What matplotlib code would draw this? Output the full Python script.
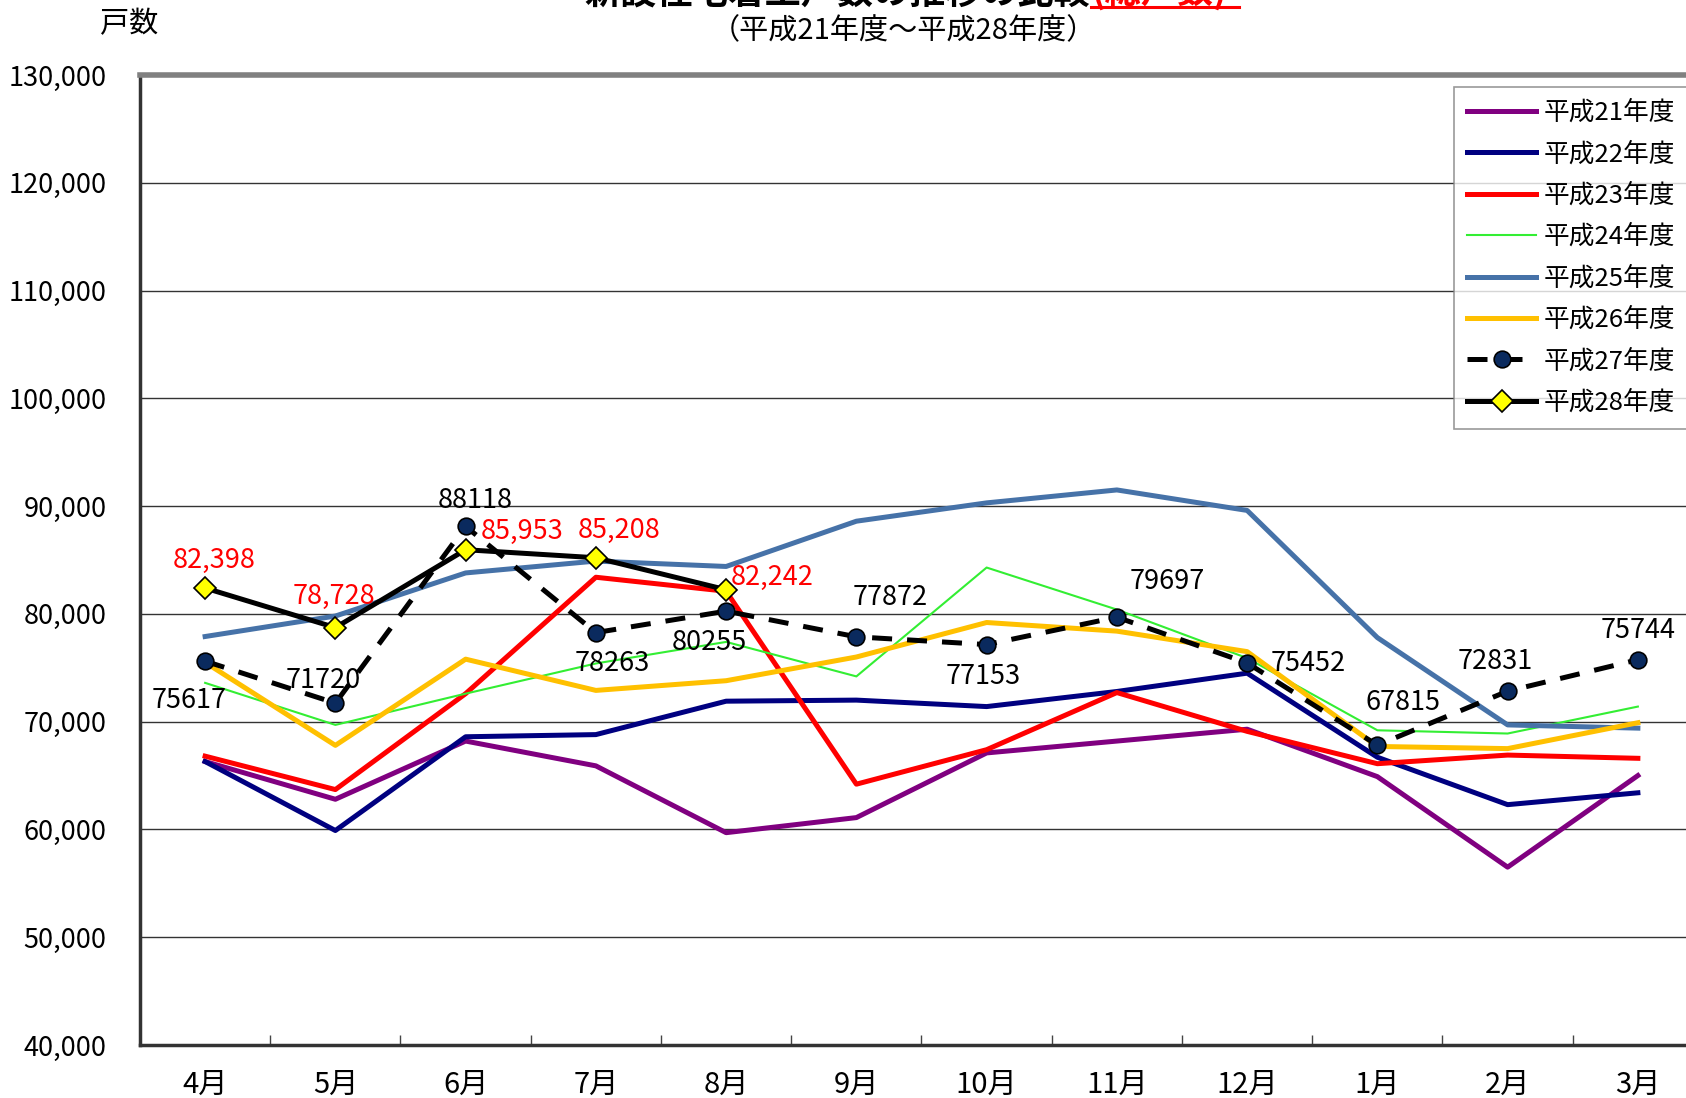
import numpy as np
import matplotlib
matplotlib.use('Agg')
import matplotlib.pyplot as plt
from matplotlib.lines import Line2D

plt.rcParams['font.family'] = ['Noto Sans CJK JP', 'DejaVu Sans']

months = ['4月', '5月', '6月', '7月', '8月', '9月', '10月', '11月', '12月', '1月', '2月', '3月']

h21 = [66300, 62800, 68200, 65900, 59700, 61100, 67100, 68200, 69300, 64900, 56500, 65000]
h22 = [66300, 59900, 68600, 68800, 71900, 72000, 71400, 72800, 74500, 66700, 62300, 63400]
h23 = [66800, 63700, 72600, 83400, 82100, 64200, 67400, 72700, 69100, 66100, 66900, 66600]
h24 = [73600, 69700, 72600, 75400, 77400, 74200, 84300, 80400, 75900, 69200, 68900, 71400]
h25 = [77900, 79800, 83800, 84900, 84400, 88600, 90300, 91500, 89600, 77800, 69700, 69400]
h26 = [75500, 67800, 75800, 72900, 73800, 76000, 79200, 78400, 76500, 67700, 67500, 69900]
h27 = [75617, 71720, 88118, 78263, 80255, 77872, 77153, 79697, 75452, 67815, 72831, 75744]
h28 = [82398, 78728, 85953, 85208, 82242]

# label offsets (pixels) for the data labels
off27 = [(-16, -39), (-12, 23), (10, 26), (16, -31), (-17, -31), (34, 39),
         (-3, -32), (50, 36), (61, -1), (26, 43), (-12, 30), (0, 29)]
off28 = [(9, 28), (-1, 31), (57, 18), (23, 27), (46, 12)]

fig = plt.figure(figsize=(16.86, 10.98), dpi=100)
ax = fig.add_axes([140/1686, 1-1045/1098, 1563/1686, 970/1098])

x = np.arange(len(months))
lw = 3.6
ax.plot(x, h21, color='#800080', lw=lw, label='平成21年度', zorder=2)
ax.plot(x, h22, color='#000080', lw=lw, label='平成22年度', zorder=2)
ax.plot(x, h23, color='#FF0000', lw=lw, label='平成23年度', zorder=2)
ax.plot(x, h24, color='#33EE33', lw=1.5, label='平成24年度', zorder=2)
ax.plot(x, h25, color='#4672A8', lw=lw, label='平成25年度', zorder=2)
ax.plot(x, h26, color='#FFC000', lw=lw, label='平成26年度', zorder=2)
ax.plot(x, h27, color='black', lw=lw, ls=(0, (4, 3)), marker='o', ms=12,
        mfc='#0A2A5E', mec='black', mew=1.2, label='平成27年度', zorder=4)
ax.plot(x[:len(h28)], h28, color='black', lw=lw, marker='D', ms=11,
        mfc='#FFFF00', mec='black', mew=1.2, label='平成28年度', zorder=5)

for i, v in enumerate(h27):
    ax.annotate(str(v), (x[i], v), xytext=off27[i], textcoords='offset pixels',
                ha='center', va='center', fontsize=19.5, color='black', zorder=6)
for i, v in enumerate(h28):
    ax.annotate(f'{v:,}', (x[i], v), xytext=off28[i], textcoords='offset pixels',
                ha='center', va='center', fontsize=19.5, color='red', zorder=6)

ax.set_xlim(-0.5, 11.5)
ax.set_ylim(40000, 130000)
ax.set_yticks(np.arange(40000, 130001, 10000))
ax.set_yticklabels([f'{v:,}' for v in range(40000, 130001, 10000)], fontsize=19.5)
ax.set_xticks(x)
ax.set_xticklabels(months, fontsize=21)
ax.set_xticks(np.arange(0.5, 11, 1), minor=True)
ax.tick_params(axis='x', which='major', length=0, pad=18)
ax.tick_params(axis='x', which='minor', direction='in', length=7, width=1, color='#444444')
ax.tick_params(axis='y', length=0, pad=24)
ax.grid(axis='y', color='#333333', lw=1)
ax.set_axisbelow(True)

ax.spines['top'].set_color('#808080')
ax.spines['top'].set_linewidth(4)
ax.spines['left'].set_color('#333333')
ax.spines['left'].set_linewidth(2.5)
ax.spines['bottom'].set_color('#333333')
ax.spines['bottom'].set_linewidth(2.5)
ax.spines['right'].set_visible(False)

leg = ax.legend(loc='upper left', bbox_to_anchor=(1454/1686, 1-87/1098),
                bbox_transform=fig.transFigure, fontsize=18.5, frameon=True,
                fancybox=False, edgecolor='#808080', borderaxespad=0,
                handlelength=2.7, handletextpad=0.3, labelspacing=0.6,
                borderpad=0.5)
leg.get_frame().set_linewidth(1.2)
leg.set_zorder(10)

# titles
fig.text(1090/1686, 1-4/1098, '新設住宅着工戸数の推移の比較', ha='right', va='baseline',
         fontsize=26, fontweight='bold')
fig.text(1092/1686, 1-4/1098, '(総戸数)', ha='left', va='baseline',
         fontsize=26, fontweight='bold', color='red')
fig.add_artist(Line2D([1091/1686, 1239/1686], [1-7/1098, 1-7/1098],
                      transform=fig.transFigure, color='red', lw=2.2))
fig.text(903/1686, 1-31/1098, '（平成21年度～平成28年度）', ha='center', va='center',
         fontsize=21)
fig.text(129/1686, 1-24/1098, '戸数', ha='center', va='center', fontsize=21)

fig.savefig('out.png', dpi=100)
